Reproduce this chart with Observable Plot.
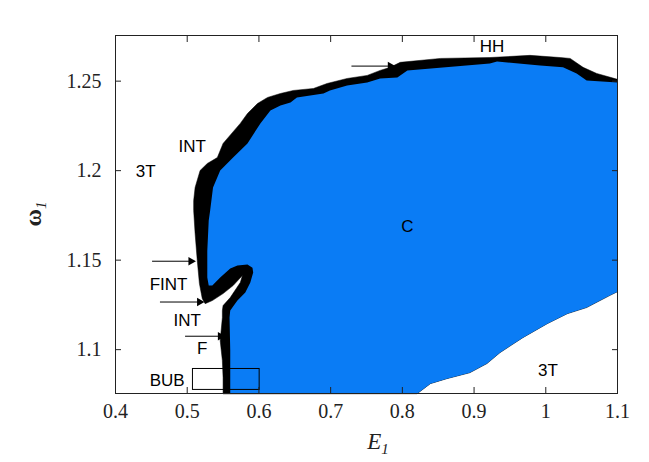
<!DOCTYPE html>
<html>
<head>
<meta charset="utf-8">
<script src="https://cdn.jsdelivr.net/npm/d3@7"></script>
<script src="https://cdn.jsdelivr.net/npm/@observablehq/plot@0.6"></script>
<style>
  html, body { margin: 0; padding: 0; background: #fff; }
</style>
</head>
<body>
<div id="chart"></div>
<script>
// ---- axis ticks ----
const xTicks = [0.4, 0.5, 0.6, 0.7, 0.8, 0.9, 1.0, 1.1];
const yTicks = [1.1, 1.15, 1.2, 1.25];

// ---- outer edge of the black band (white / black boundary) ----
const outerE = [0.550,0.550,0.549,0.546,0.549,0.549,0.550,0.560,0.574,0.577,0.564,0.550,0.535,0.525,0.521,0.517,0.514,0.511,0.509,0.509,0.511,0.518,0.528,0.542,0.550,0.574,0.584,0.598,0.612,0.630,0.648,0.676,0.695,0.723,0.751,0.769,0.783,0.797,0.853,0.922,0.978,1.020,1.034,1.052,1.071,1.1];
const outerW = [1.0755,1.0843,1.0939,1.1050,1.1179,1.1218,1.1246,1.1291,1.1375,1.1414,1.1358,1.1313,1.1274,1.1257,1.1285,1.1369,1.1498,1.1649,1.1777,1.1833,1.1906,1.2001,1.2040,1.2073,1.2152,1.2264,1.2319,1.2375,1.2409,1.2431,1.2448,1.2459,1.2487,1.2515,1.2532,1.2560,1.2577,1.2605,1.2627,1.2632,1.2644,1.2632,1.2627,1.2577,1.2543,1.2510];

// ---- inner edge (black / blue boundary, region C) ----
const innerE = [0.560,0.560,0.559,0.560,0.570,0.581,0.588,0.592,0.591,0.584,0.570,0.560,0.546,0.535,0.530,0.528,0.528,0.530,0.532,0.536,0.546,0.564,0.584,0.602,0.616,0.630,0.644,0.653,0.690,0.699,0.723,0.751,0.769,0.793,0.807,0.922,0.932,0.992,1.024,1.043,1.057,1.1];
const innerW = [1.0755,1.0994,1.1179,1.1218,1.1274,1.1319,1.1375,1.1431,1.1458,1.1475,1.1470,1.1453,1.1403,1.1358,1.1358,1.1403,1.1553,1.1721,1.1777,1.1906,1.2001,1.2073,1.2152,1.2264,1.2336,1.2364,1.2381,1.2409,1.2431,1.2448,1.2476,1.2493,1.2515,1.2521,1.2560,1.2599,1.2610,1.2588,1.2577,1.2543,1.2504,1.2493];

// ---- lower-right boundary of region C (C / 3T) ----
const lowerE = [1.1,1.1,1.089,1.057,1.030,1.002,0.968,0.936,0.918,0.894,0.862,0.839,0.821];
const lowerW = [1.2493,1.1324,1.1302,1.1235,1.1201,1.1145,1.1067,1.0983,1.0922,1.0871,1.0838,1.0810,1.0755];

// ---- region labels ----
const labelText = ["HH", "INT", "3T", "C", "FINT", "INT", "F", "BUB", "3T"];
const labelE    = [0.925, 0.507, 0.442, 0.807, 0.474, 0.500, 0.521, 0.472, 1.003];
const labelW    = [1.2694, 1.2135, 1.1995, 1.1687, 1.1363, 1.1162, 1.1006, 1.0827, 1.0883];

// ---- arrows ----
const arrowE1 = [0.729, 0.451, 0.462, 0.497];
const arrowE2 = [0.786, 0.508, 0.520, 0.549];
const arrowW  = [1.2584, 1.1494, 1.1266, 1.1075];

// ---- BUB box ----
const bubBox = {e1: 0.508, e2: 0.601, w1: 1.0775, w2: 1.0892};

const pts = (E, W) => E.map((e, i) => ({e, w: W[i]}));
const blackPoly = pts(outerE, outerW).concat(pts(lowerE, lowerW));
const bluePoly = pts(innerE, innerW).concat(pts(lowerE, lowerW));
const labels = labelText.map((t, i) => ({t, e: labelE[i], w: labelW[i]}));
const arrows = arrowE1.map((e1, i) => ({e1, e2: arrowE2[i], w: arrowW[i]}));

const fmt = d => String(+d.toFixed(2));

const svg = Plot.plot({
  width: 649,
  height: 462,
  marginLeft: 115,
  marginRight: 32,
  marginTop: 35,
  marginBottom: 69,
  style: {fontFamily: "Liberation Serif", fontSize: "20px", color: "#222", background: "#fff"},
  x: {domain: [0.4, 1.1]},
  y: {domain: [1.0755, 1.2755]},
  marks: [
    Plot.line(blackPoly, {x: "e", y: "w", fill: "#000", stroke: "#000", strokeWidth: 0.5, curve: "linear-closed"}),
    Plot.line(bluePoly, {x: "e", y: "w", fill: "#0a7cf5", stroke: "none", curve: "linear-closed"}),
    Plot.rect([bubBox], {x1: "e1", x2: "e2", y1: "w1", y2: "w2", fill: "none", stroke: "#000", strokeWidth: 1}),
    Plot.link(arrows, {x1: "e1", x2: "e2", y1: "w", y2: "w", stroke: "#000", strokeWidth: 1}),
    Plot.dot(arrows, {x: "e2", y: "w", symbol: "triangle", rotate: 90, r: 3.2, fill: "#000", stroke: "none", dx: -2}),
    Plot.text(labels, {x: "e", y: "w", text: "t", fontFamily: "Liberation Sans", fontSize: 17, fill: "#000"}),
    Plot.frame({stroke: "#222"}),
    Plot.axisX({ticks: xTicks, tickFormat: fmt, tickSize: -6, tickPadding: 16, label: null, fontSize: 20}),
    Plot.axisX({anchor: "top", ticks: xTicks, tickFormat: () => "", tickSize: -6, label: null}),
    Plot.axisY({ticks: yTicks, tickFormat: fmt, tickSize: -6, tickPadding: 20, label: null, fontSize: 20}),
    Plot.axisY({anchor: "right", ticks: yTicks, tickFormat: () => "", tickSize: -6, label: null})
  ]
});

const s = d3.select(svg);
// x label: E_1 (italic)
const xl = s.append("text")
  .attr("x", 378).attr("y", 449)
  .attr("text-anchor", "middle")
  .attr("font-family", "Liberation Serif")
  .attr("font-size", 23)
  .attr("font-style", "italic")
  .attr("fill", "#222");
xl.append("tspan").text("E");
xl.append("tspan").attr("font-size", 15).attr("dy", 5).text("1");

// y label: omega_1 (rotated)
const yl = s.append("text")
  .attr("transform", "translate(41,214) rotate(-90)")
  .attr("text-anchor", "middle")
  .attr("font-family", "Liberation Serif")
  .attr("font-size", 24)
  .attr("font-weight", "bold")
  .attr("fill", "#222");
yl.append("tspan").text("ω");
yl.append("tspan").attr("font-size", 15).attr("font-style", "italic").attr("font-weight", "normal").attr("dy", 5).text("1");

document.getElementById("chart").appendChild(svg);
</script>
</body>
</html>
